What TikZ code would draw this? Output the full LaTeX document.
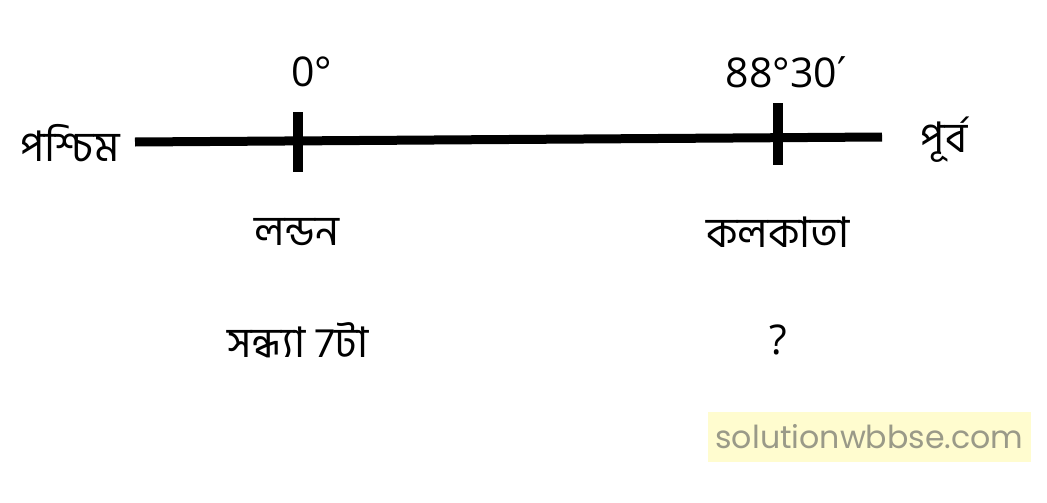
\documentclass[tikz,border=0pt]{standalone}
\usepackage{fontspec}
\setmainfont{Open Sans}
\newfontfamily\bnfont[Script=Bengali]{Hind Siliguri}
\newfontfamily\symfont{DejaVu Sans}
\newfontfamily\wmfont{Poppins}
\definecolor{wmyellow}{HTML}{FFFCCF}
\definecolor{wmgray}{HTML}{9A9A88}
\begin{document}
\begin{tikzpicture}[
    x=0.015cm, y=-0.015cm,
    bn/.style={font=\bnfont\fontsize{18}{20}\selectfont, inner sep=0pt},
    deg/.style={font=\fontsize{17.5}{20}\selectfont, inner sep=0pt}
    ]
    \useasboundingbox (0,0) rectangle (1047,502);

    % the line west to east
    \coordinate (west) at (135, 142);
    \coordinate (east) at (882, 137);
    \draw [line width=1.35mm] (west) -- (east);
    \coordinate (t1a) at (298, 112);
    \coordinate (t1b) at (298, 172);
    \coordinate (t2a) at (778, 103);
    \coordinate (t2b) at (778, 165);
    \draw [line width=1.45mm] (t1a) -- (t1b);
    \draw [line width=1.45mm] (t2a) -- (t2b);

    \node (wlabel) at (70, 143) [bn] {পশ্চিম};
    \node (elabel) at (944, 140) [bn] {পূর্ব};
    \node (lon0) at (312, 72) [deg] {0°};
    \node (lon1) at (786, 72) [deg] {88°30{\symfont\raisebox{0.5pt}{′}}};
    \node (london) at (297, 232) [bn] {লন্ডন};
    \node (kolkata) at (778, 232) [bn] {কলকাতা};
    \node (ltime) at (298, 340) [bn] {সন্ধ্যা 7টা};
    \node (ktime) at (778, 340) [deg] {?};

    \node (mark) at (869.5, 437) [fill=wmyellow, minimum width=315*0.015cm,
      minimum height=50*0.015cm, text=wmgray,
      font=\wmfont\fontsize{13.5}{16}\selectfont] {solutionwbbse.com};

  \end{tikzpicture}
\end{document}
